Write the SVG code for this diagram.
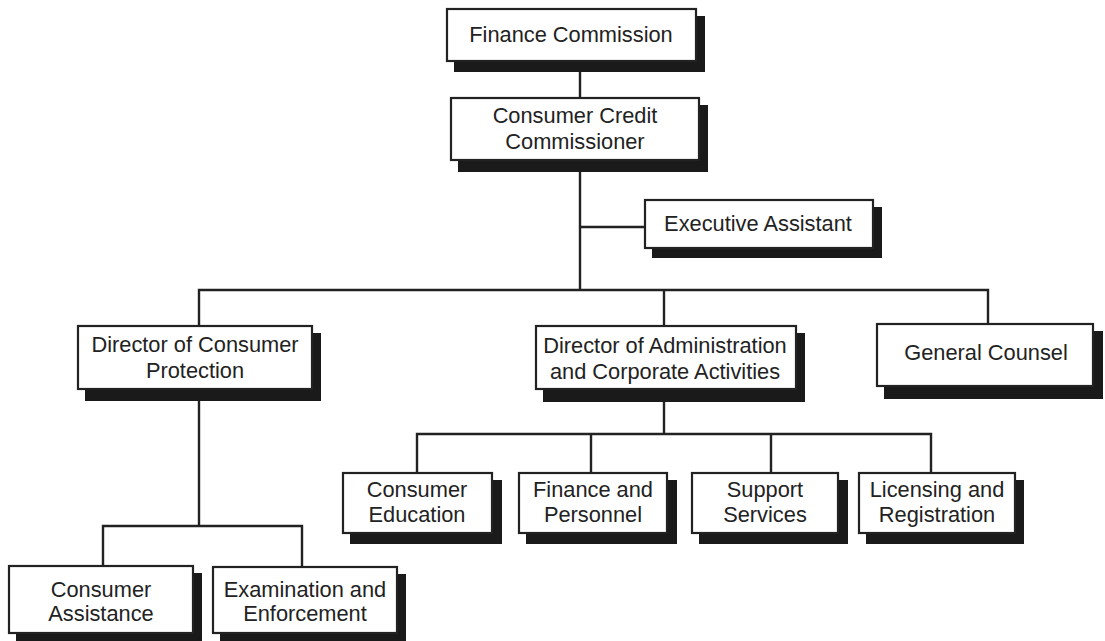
<svg xmlns="http://www.w3.org/2000/svg" width="1105" height="641" viewBox="0 0 1105 641">
<style>
.bg{fill:#ffffff}
.sh{fill:#1a1a1a}
.bx{fill:#ffffff;stroke:#222222;stroke-width:2.2}
.t{font-family:"Liberation Sans",Arial,sans-serif;font-size:21.8px;fill:#222222;text-anchor:middle}
.c{stroke:#222222;stroke-width:2.4;fill:none}
</style>
<rect class="bg" x="0" y="0" width="1105" height="641"/>
<g id="connectors">
<line class="c" x1="580" y1="61" x2="580" y2="98"/>
<line class="c" x1="580" y1="160" x2="580" y2="291"/>
<line class="c" x1="580" y1="227" x2="645" y2="227"/>
<polyline class="c" points="199,326 199,290 988,290 988,324"/>
<line class="c" x1="664" y1="290" x2="664" y2="326"/>
<line class="c" x1="199" y1="389" x2="199" y2="526"/>
<polyline class="c" points="103,566 103,526 302,526 302,567"/>
<line class="c" x1="664" y1="389" x2="664" y2="434"/>
<polyline class="c" points="417,473 417,434 931,434 931,473"/>
<line class="c" x1="591" y1="434" x2="591" y2="473"/>
<line class="c" x1="771" y1="434" x2="771" y2="473"/>
</g>
<g id="finance-commission">
<rect class="sh" x="454" y="16" width="251" height="56"/>
<rect class="bx" x="447" y="9" width="249" height="52"/>
<text class="t" x="571" y="42">Finance Commission</text>
</g>
<g id="consumer-credit-commissioner">
<rect class="sh" x="458" y="105" width="250" height="67"/>
<rect class="bx" x="451" y="98" width="248" height="62"/>
<text class="t" x="575" y="123">Consumer Credit</text>
<text class="t" x="575" y="149">Commissioner</text>
</g>
<g id="executive-assistant">
<rect class="sh" x="652" y="207" width="230" height="51"/>
<rect class="bx" x="645" y="200" width="228" height="48"/>
<text class="t" x="758" y="231">Executive Assistant</text>
</g>
<g id="director-consumer-protection">
<rect class="sh" x="85" y="333" width="236" height="68"/>
<rect class="bx" x="78" y="326" width="234" height="63"/>
<text class="t" x="195" y="352">Director of Consumer</text>
<text class="t" x="195" y="378">Protection</text>
</g>
<g id="director-administration">
<rect class="sh" x="543" y="333" width="262" height="69"/>
<rect class="bx" x="536" y="326" width="260" height="63"/>
<text class="t" x="665" y="353">Director of Administration</text>
<text class="t" x="665" y="379">and Corporate Activities</text>
</g>
<g id="general-counsel">
<rect class="sh" x="884" y="331" width="219" height="68"/>
<rect class="bx" x="877" y="324" width="216" height="62"/>
<text class="t" x="986" y="360">General Counsel</text>
</g>
<g id="consumer-education">
<rect class="sh" x="350" y="480" width="152" height="64"/>
<rect class="bx" x="343" y="473" width="149" height="60"/>
<text class="t" x="417" y="497">Consumer</text>
<text class="t" x="417" y="522">Education</text>
</g>
<g id="finance-personnel">
<rect class="sh" x="526" y="480" width="151" height="64"/>
<rect class="bx" x="519" y="473" width="148" height="60"/>
<text class="t" x="593" y="497">Finance and</text>
<text class="t" x="593" y="522">Personnel</text>
</g>
<g id="support-services">
<rect class="sh" x="699" y="480" width="149" height="64"/>
<rect class="bx" x="692" y="473" width="146" height="60"/>
<text class="t" x="765" y="497">Support</text>
<text class="t" x="765" y="522">Services</text>
</g>
<g id="licensing-registration">
<rect class="sh" x="866" y="480" width="158" height="64"/>
<rect class="bx" x="859" y="473" width="156" height="60"/>
<text class="t" x="937" y="497">Licensing and</text>
<text class="t" x="937" y="522">Registration</text>
</g>
<g id="consumer-assistance">
<rect class="sh" x="16" y="573" width="186" height="72"/>
<rect class="bx" x="9" y="566" width="184" height="67"/>
<text class="t" x="101" y="597">Consumer</text>
<text class="t" x="101" y="621">Assistance</text>
</g>
<g id="examination-enforcement">
<rect class="sh" x="220" y="574" width="186" height="71"/>
<rect class="bx" x="213" y="567" width="184" height="66"/>
<text class="t" x="305" y="597">Examination and</text>
<text class="t" x="305" y="621">Enforcement</text>
</g>
</svg>
